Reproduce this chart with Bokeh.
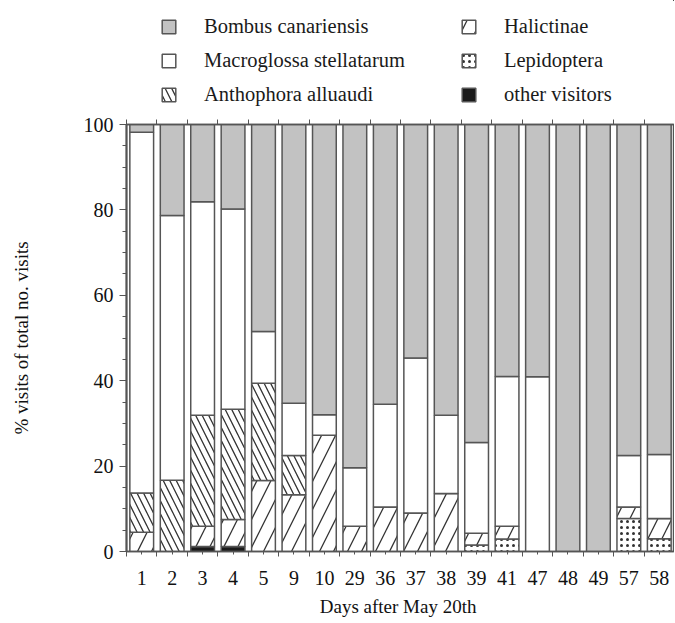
import numpy as np
from bokeh.plotting import figure
from bokeh.layouts import column
from bokeh.models import Range1d, FixedTicker, LinearAxis, Legend, LegendItem
from bokeh.embed import file_html
from bokeh.resources import INLINE

# ---- data (percent of total number of visits) ----
days = ["1", "2", "3", "4", "5", "9", "10", "29", "36", "37", "38", "39",
        "41", "47", "48", "49", "57", "58"]
other_visitors = [0, 0, 1.2, 1.2, 0, 0, 0, 0, 0, 0, 0, 0, 0, 0, 0, 0, 0, 0]
lepidoptera = [0, 0, 0, 0, 0, 0, 0, 0, 0, 0, 0, 1.5, 2.9, 0, 0, 0, 7.7, 3.0]
halictinae = [4.5, 0, 4.7, 6.3, 16.6, 13.3, 27.2, 5.9, 10.4, 9.0, 13.6, 2.8,
              3.0, 0, 0, 0, 2.7, 4.7]
anthophora = [9.2, 16.7, 26.0, 25.8, 22.8, 9.2, 0, 0, 0, 0, 0, 0, 0, 0, 0, 0, 0, 0]
macroglossa = [84.5, 62.0, 50.0, 46.9, 12.1, 12.2, 4.8, 13.7, 24.1, 36.3, 18.3,
               21.2, 35.1, 40.9, 0, 0, 12.1, 15.0]
bombus = [1.8, 21.3, 18.1, 19.8, 48.5, 65.3, 68.0, 80.4, 65.5, 54.7, 68.1, 74.5,
          59.0, 59.1, 100, 100, 77.5, 77.3]

FONT = "Liberation Serif"
EDGE = "#555555"

x = np.arange(1, len(days) + 1)

# stacked series, bottom to top
stack_spec = [
    ("other visitors", other_visitors, dict(fill_color="#1a1a1a")),
    ("Lepidoptera", lepidoptera, dict(fill_color="white", hatch_pattern=".", hatch_scale=6,
                                      hatch_color="#333333", hatch_weight=1)),
    ("Halictinae", halictinae, dict(fill_color="white", hatch_pattern="/", hatch_scale=28,
                                    hatch_color="#333333", hatch_weight=1.3)),
    ("Anthophora alluaudi", anthophora, dict(fill_color="white", hatch_pattern="\\", hatch_scale=13,
                                             hatch_color="#333333", hatch_weight=1.3)),
    ("Macroglossa stellatarum", macroglossa, dict(fill_color="white")),
    ("Bombus canariensis", bombus, dict(fill_color="#c2c2c2")),
]

LEG_H = 110

# ---------- legend strip (same bars, drawn out of its view; only the legend shows) ----------
pl = figure(width=674, height=LEG_H, x_range=Range1d(-1000, -999), y_range=Range1d(-1000, -999),
            output_backend="svg", toolbar_location=None,
            min_border_left=0, min_border_right=0, min_border_top=0, min_border_bottom=0)
pl.axis.visible = False
pl.grid.visible = False
pl.outline_line_color = None

# ---------- main chart ----------
p = figure(width=674, height=622 - LEG_H, x_range=Range1d(0.5, 18.5), y_range=Range1d(0, 100),
           output_backend="svg", toolbar_location=None,
           min_border_left=126, min_border_right=0, min_border_top=124 - LEG_H, min_border_bottom=71)
p.xgrid.visible = False
p.ygrid.visible = False
p.outline_line_color = EDGE
p.outline_line_width = 1.5

leg_r = {}
bottom = np.zeros(len(days))
for name, vals, style in stack_spec:
    v = np.array(vals, dtype=float)
    top = bottom + v
    p.vbar(x=x, width=0.78, bottom=bottom, top=top, line_color=EDGE, line_width=1.5, **style)
    leg_r[name] = pl.vbar(x=x, width=0.78, bottom=bottom, top=top, line_color=EDGE,
                          line_width=1.5, **style)
    bottom = top

legend_order = ["Bombus canariensis", "Macroglossa stellatarum", "Anthophora alluaudi",
                "Halictinae", "Lepidoptera", "other visitors"]
legend = Legend(items=[LegendItem(label=n, renderers=[leg_r[n]]) for n in legend_order],
                ncols=2, location=(34, 4), padding=0, margin=0, spacing=11,
                glyph_width=17, glyph_height=17, label_standoff=27, label_width=245,
                label_text_font=FONT, label_text_font_size="20.5px", label_text_color="#1a1a1a",
                border_line_color=None, background_fill_alpha=0)
pl.add_layout(legend, "center")

# x axis
centers = list(range(1, len(days) + 1))
gaps = [c + 0.5 for c in range(0, len(days) + 1)]
xa = p.xaxis[0]
xa.ticker = FixedTicker(ticks=centers, minor_ticks=gaps)
xa.major_label_overrides = {c: d for c, d in zip(centers, days)}
xa.major_tick_out = 3
xa.major_tick_in = 0
xa.minor_tick_out = 5
xa.minor_tick_in = 0
xa.axis_line_color = EDGE
xa.axis_line_width = 1.5
xa.major_tick_line_color = EDGE
xa.minor_tick_line_color = EDGE
xa.major_label_text_font = FONT
xa.major_label_text_font_size = "20px"
xa.major_label_text_color = "#111111"
xa.major_label_standoff = 14
xa.axis_label = "Days after May  20th"
xa.axis_label_text_font = FONT
xa.axis_label_text_font_size = "19px"
xa.axis_label_text_font_style = "normal"
xa.axis_label_text_color = "#111111"
xa.axis_label_standoff = 8

top_axis = LinearAxis(ticker=FixedTicker(ticks=[], minor_ticks=gaps),
                      minor_tick_out=5, minor_tick_in=0, axis_line_color=EDGE, axis_line_width=1.5,
                      minor_tick_line_color=EDGE)
p.add_layout(top_axis, "above")

# y axis
ya = p.yaxis[0]
ya.ticker = FixedTicker(ticks=[0, 20, 40, 60, 80, 100], minor_ticks=list(range(0, 101, 5)))
ya.major_tick_out = 7
ya.major_tick_in = 0
ya.minor_tick_out = 4
ya.minor_tick_in = 0
ya.axis_line_color = EDGE
ya.axis_line_width = 2
ya.major_tick_line_color = EDGE
ya.minor_tick_line_color = EDGE
ya.major_label_text_font = FONT
ya.major_label_text_font_size = "20px"
ya.major_label_text_color = "#111111"
ya.major_label_standoff = 6
ya.axis_label = "% visits of total no. visits"
ya.axis_label_text_font = FONT
ya.axis_label_text_font_size = "19px"
ya.axis_label_text_font_style = "normal"
ya.axis_label_text_color = "#111111"
ya.axis_label_standoff = 49

layout = column(pl, p, spacing=0)
open("out.html", "w").write(file_html(layout, INLINE))
